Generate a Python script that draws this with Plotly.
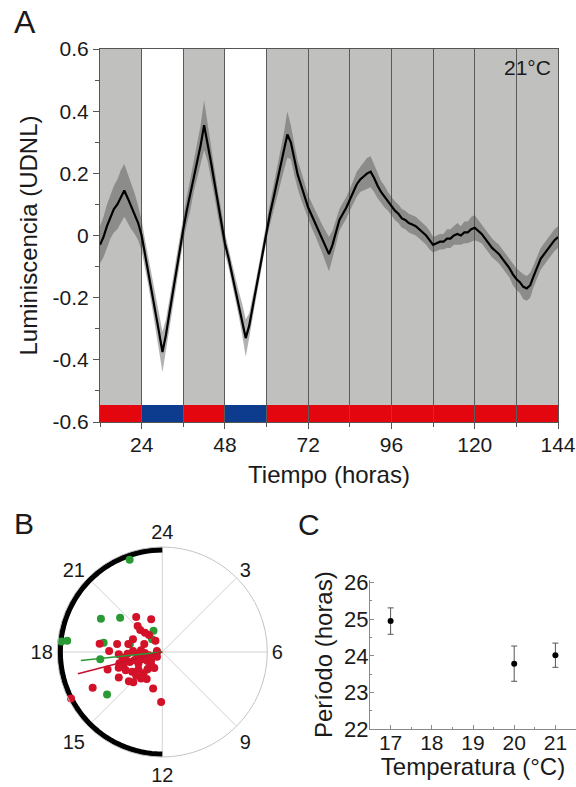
import numpy as np
import plotly.graph_objects as go

# ---------------- Panel A: luminescence time course (21 °C) ----------------
hours = list(range(12, 145))
lum_mean = [
    -0.03, -0.005, 0.03, 0.06, 0.085, 0.10, 0.125, 0.145, 0.12, 0.095, 0.07, 0.04,      # 12-23
    0.0, -0.06, -0.12, -0.18, -0.245, -0.31, -0.375, -0.32, -0.25, -0.18, -0.11, -0.04,  # 24-35
    0.02, 0.08, 0.13, 0.19, 0.24, 0.29, 0.355, 0.30, 0.235, 0.17, 0.10, 0.04,            # 36-47
    -0.025, -0.07, -0.12, -0.17, -0.22, -0.27, -0.33, -0.29, -0.23, -0.17, -0.11, -0.045, # 48-59
    0.018, 0.07, 0.12, 0.17, 0.22, 0.27, 0.325, 0.30, 0.245, 0.195, 0.16, 0.125,         # 60-71
    0.09, 0.065, 0.04, 0.015, -0.01, -0.035, -0.06, -0.03, 0.01, 0.05, 0.07, 0.09,       # 72-83
    0.115, 0.14, 0.165, 0.18, 0.19, 0.20, 0.205, 0.185, 0.16, 0.14, 0.125, 0.11,         # 84-95
    0.095, 0.08, 0.07, 0.055, 0.05, 0.04, 0.035, 0.03, 0.02, 0.01, 0.0, -0.015,          # 96-107
    -0.03, -0.025, -0.02, -0.02, -0.01, -0.01, 0.0, 0.005, 0.0, 0.01, 0.01, 0.02,        # 108-119
    0.025, 0.015, 0.005, -0.01, -0.025, -0.04, -0.05, -0.06, -0.075, -0.09, -0.105, -0.125, # 120-131
    -0.14, -0.15, -0.165, -0.17, -0.16, -0.13, -0.10, -0.075, -0.06, -0.045, -0.03, -0.015, # 132-143
    -0.005,                                                                               # 144
]
lum_sem = [
    0.06, 0.065, 0.07, 0.07, 0.075, 0.08, 0.085, 0.085, 0.08, 0.075, 0.065, 0.055,
    0.05, 0.045, 0.045, 0.05, 0.05, 0.06, 0.065, 0.05, 0.04, 0.04, 0.04, 0.04,
    0.04, 0.045, 0.05, 0.05, 0.055, 0.065, 0.08, 0.06, 0.05, 0.045, 0.04, 0.04,
    0.035, 0.03, 0.03, 0.035, 0.04, 0.05, 0.06, 0.04, 0.03, 0.03, 0.03, 0.03,
    0.03, 0.035, 0.04, 0.045, 0.05, 0.06, 0.075, 0.055, 0.05, 0.045, 0.045, 0.04,
    0.04, 0.04, 0.04, 0.04, 0.045, 0.05, 0.055, 0.045, 0.04, 0.035, 0.035, 0.035,
    0.035, 0.035, 0.04, 0.04, 0.045, 0.05, 0.05, 0.045, 0.04, 0.035, 0.035, 0.03,
    0.03, 0.03, 0.03, 0.03, 0.03, 0.03, 0.03, 0.03, 0.03, 0.03, 0.03, 0.03,
    0.025, 0.025, 0.025, 0.025, 0.03, 0.03, 0.03, 0.035, 0.03, 0.035, 0.035, 0.04,
    0.04, 0.035, 0.03, 0.03, 0.03, 0.03, 0.03, 0.03, 0.03, 0.03, 0.03, 0.035,
    0.035, 0.035, 0.04, 0.04, 0.04, 0.035, 0.035, 0.035, 0.035, 0.035, 0.035, 0.035,
    0.035,
]

# light regime bar: segment start, end and colour (red = light, blue = dark)
regime_start = [12, 24, 36, 48, 60]
regime_end = [24, 36, 48, 60, 144]
regime_colour = ["#e3060f", "#0d3b8e", "#e3060f", "#0d3b8e", "#e3060f"]
# dark intervals shown unshaded in the background
dark_start = [24, 48]
dark_end = [36, 60]

# ---------------- Panel B: phase / amplitude of individual plants ----------------
red_phase = [21.55, 22.75, 21.1, 21.0, 21.2, 21.45, 18.5, 18.07, 18.67, 18.88, 19.56,
             17.8, 17.48, 17.82, 18.12, 17.66, 18.3, 17.8, 17.1, 16.3, 15.2, 17.03,
             17.18, 16.85, 16.93, 16.25, 16.65, 15.95, 14.75, 13.78, 16.81, 16.67,
             16.24, 15.79, 15.58, 14.75, 14.69, 15.17, 14.59, 15.98, 15.25, 14.92,
             16.19, 12.94, 12.09, 16.2, 21.9, 19.6, 16.7, 14.0, 17.1, 15.6, 18.7]
red_amp = [0.426, 0.338, 0.35, 0.305, 0.253, 0.21, 0.617, 0.519, 0.448, 0.341, 0.312,
           0.426, 0.392, 0.339, 0.286, 0.246, 0.209, 0.171, 0.134, 0.093, 0.07, 0.433,
           0.365, 0.332, 0.281, 0.26, 0.205, 0.17, 0.165, 0.174, 0.561, 0.453,
           0.399, 0.352, 0.289, 0.277, 0.216, 0.345, 0.331, 0.492, 0.434, 0.409,
           0.764, 0.368, 0.488, 1.0, 0.128, 0.193, 0.402, 0.305, 0.23, 0.134, 0.054]
green_phase = [22.7, 19.9, 20.6, 22.5, 21.4, 18.4, 18.45, 18.6, 18.9, 17.55, 15.5, 15.5, 14.7, 18.0]
green_amp = [0.955, 0.682, 0.53, 0.224, 0.159, 0.99, 0.935, 0.58, 0.326, 0.61, 0.68, 0.33, 0.225, 0.05]
# mean vectors
red_mean_phase, red_mean_amp = 17.04, 0.85
green_mean_phase, green_mean_amp = 17.6, 0.80
# subjective night on the clock
night_start, night_end = 12, 24
clock_ticks = [0, 3, 6, 9, 12, 15, 18, 21]
clock_labels = ["24", "3", "6", "9", "12", "15", "18", "21"]

# ---------------- Panel C: period vs temperature ----------------
temperature = [17, 20, 21]
period = [24.95, 23.79, 24.02]
period_err = [0.36, 0.48, 0.33]

FONT = "Liberation Sans, Arial, sans-serif"
DEG_PER_HOUR = 360 / 24
W, H = 576, 787


def px_x(p):
    return p / W


def px_y(p):
    return 1 - p / H


fig = go.Figure()

# SEM band and mean trace
upper = [m + s for m, s in zip(lum_mean, lum_sem)]
lower = [m - s for m, s in zip(lum_mean, lum_sem)]
fig.add_trace(go.Scatter(x=hours, y=upper, mode="lines", line=dict(width=0),
                         hoverinfo="skip", showlegend=False, xaxis="x", yaxis="y"))
fig.add_trace(go.Scatter(x=hours, y=lower, mode="lines", line=dict(width=0),
                         fill="tonexty", fillcolor="rgba(70,70,70,0.42)",
                         hoverinfo="skip", showlegend=False, xaxis="x", yaxis="y"))
fig.add_trace(go.Scatter(x=hours, y=lum_mean, mode="lines",
                         line=dict(color="black", width=2.2),
                         showlegend=False, xaxis="x", yaxis="y"))

# grey background of panel A, white dark intervals, light-regime bar
shapes = [dict(type="rect", xref="x", yref="y", x0=12, x1=144, y0=-0.6, y1=0.6,
               fillcolor="#c0c1be", line=dict(width=0), layer="below")]
for a, b in zip(dark_start, dark_end):
    shapes.append(dict(type="rect", xref="x", yref="y", x0=a, x1=b, y0=-0.6, y1=0.6,
                       fillcolor="white", line=dict(width=0), layer="below"))
for a, b, c in zip(regime_start, regime_end, regime_colour):
    shapes.append(dict(type="rect", xref="x", yref="y", x0=a, x1=b, y0=-0.6, y1=-0.545,
                       fillcolor=c, line=dict(width=0), layer="below"))

# Panel B traces
fig.add_trace(go.Scatterpolar(
    r=[1.0] * 61,
    theta=np.linspace(night_start, night_end, 61) * DEG_PER_HOUR,
    mode="lines", line=dict(color="black", width=6),
    showlegend=False, subplot="polar"))
fig.add_trace(go.Scatterpolar(
    r=green_amp, theta=[h * DEG_PER_HOUR for h in green_phase], mode="markers",
    marker=dict(color="#2a9a35", size=8), cliponaxis=False,
    showlegend=False, subplot="polar"))
fig.add_trace(go.Scatterpolar(
    r=red_amp, theta=[h * DEG_PER_HOUR for h in red_phase], mode="markers",
    marker=dict(color="#d3122a", size=8), cliponaxis=False,
    showlegend=False, subplot="polar"))
fig.add_trace(go.Scatterpolar(
    r=[0, green_mean_amp], theta=[green_mean_phase * DEG_PER_HOUR] * 2, mode="lines",
    line=dict(color="#2a9a35", width=1.6), showlegend=False, subplot="polar"))
fig.add_trace(go.Scatterpolar(
    r=[0, red_mean_amp], theta=[red_mean_phase * DEG_PER_HOUR] * 2, mode="lines",
    line=dict(color="#c8102e", width=1.6), showlegend=False, subplot="polar"))

# Panel C trace
fig.add_trace(go.Scatter(
    x=temperature, y=period, mode="markers",
    marker=dict(color="black", size=6),
    error_y=dict(type="data", array=period_err, color="#555555", thickness=1, width=3),
    showlegend=False, xaxis="x2", yaxis="y2"))

axis_col = "#555555"
fig.update_layout(
    width=W, height=H,
    margin=dict(l=0, r=0, t=0, b=0),
    paper_bgcolor="white",
    plot_bgcolor="white",
    font=dict(family=FONT, color="#1a1a1a"),
    shapes=shapes,
    xaxis=dict(
        domain=[px_x(100), px_x(558)], anchor="y", range=[12, 144], automargin=False,
        tickmode="linear", tick0=0, dtick=24,
        ticks="outside", ticklen=6, tickcolor=axis_col, tickwidth=1.2,
        tickfont=dict(size=21), ticklabelstandoff=-2,
        showgrid=True, gridcolor="#5a5a5a", gridwidth=1,
        minor=dict(tick0=0, dtick=12, ticks="outside", ticklen=4, tickcolor=axis_col,
                   showgrid=True, gridcolor="#5a5a5a", gridwidth=1),
        showline=True, linecolor=axis_col, linewidth=1.2, mirror=True, zeroline=False,
        title=dict(text="Tiempo (horas)", font=dict(size=24), standoff=10),
    ),
    yaxis=dict(
        domain=[px_y(422), px_y(49)], anchor="x", range=[-0.6, 0.6], automargin=False,
        tickmode="array", tickvals=[-0.6, -0.4, -0.2, 0, 0.2, 0.4, 0.6],
        ticktext=["-0.6", "-0.4", "-0.2", "0", "0.2", "0.4", "0.6"],
        ticks="outside", ticklen=6, tickcolor=axis_col, tickwidth=1.2,
        tickfont=dict(size=21),
        minor=dict(tick0=0, dtick=0.1, ticks="outside", ticklen=4, tickcolor=axis_col),
        showgrid=False, zeroline=False,
        showline=True, linecolor=axis_col, linewidth=1.2, mirror=True,
        title=dict(text="Luminiscencia (UDNL)", font=dict(size=24), standoff=8),
    ),
    polar=dict(
        domain=dict(x=[px_x(57.3), px_x(267.3)], y=[px_y(757), px_y(547)]),
        bgcolor="white",
        angularaxis=dict(
            rotation=90, direction="clockwise", tickmode="array",
            tickvals=[h * DEG_PER_HOUR for h in clock_ticks], ticktext=clock_labels,
            showgrid=True, gridcolor="#d2d2d2", gridwidth=1,
            showline=True, linecolor="#c4c4c4", linewidth=1,
            ticks="", tickfont=dict(size=20),
        ),
        radialaxis=dict(visible=False, range=[0, 1.025]),
    ),
    xaxis2=dict(
        domain=[px_x(370), 1.0], anchor="y2", range=[16.5, 21.5], automargin=False,
        tickmode="linear", tick0=17, dtick=1,
        ticks="inside", ticklen=4, tickcolor="#8a8a8a",
        minor=dict(dtick=0.5, ticks="inside", ticklen=2, tickcolor="#8a8a8a"),
        tickfont=dict(size=21), ticklabelstandoff=-6,
        showline=True, linecolor="#8a8a8a", linewidth=1, showgrid=False, zeroline=False,
        title=dict(text="Temperatura (°C)", font=dict(size=24), standoff=0),
    ),
    yaxis2=dict(
        domain=[px_y(729.3), px_y(580)], anchor="x2", range=[22, 26.07], automargin=False,
        tickmode="linear", tick0=22, dtick=1,
        ticks="inside", ticklen=4, tickcolor="#8a8a8a",
        minor=dict(dtick=0.5, ticks="inside", ticklen=2, tickcolor="#8a8a8a"),
        tickfont=dict(size=22), ticklabelstandoff=-4,
        showline=True, linecolor="#8a8a8a", linewidth=1, showgrid=False, zeroline=False,
        title=dict(text="Período (horas)", font=dict(size=24), standoff=4),
    ),
    annotations=[
        dict(text="A", x=px_x(12), y=px_y(22), xref="paper", yref="paper",
             xanchor="left", yanchor="middle", showarrow=False, font=dict(size=32)),
        dict(text="21°C", x=px_x(553), y=px_y(68), xref="paper", yref="paper",
             xanchor="right", yanchor="middle", showarrow=False, font=dict(size=21)),
        dict(text="B", x=px_x(12), y=px_y(523), xref="paper", yref="paper",
             xanchor="left", yanchor="middle", showarrow=False, font=dict(size=30)),
        dict(text="C", x=px_x(296), y=px_y(524), xref="paper", yref="paper",
             xanchor="left", yanchor="middle", showarrow=False, font=dict(size=30)),
    ],
)

fig.write_html("out.html")
